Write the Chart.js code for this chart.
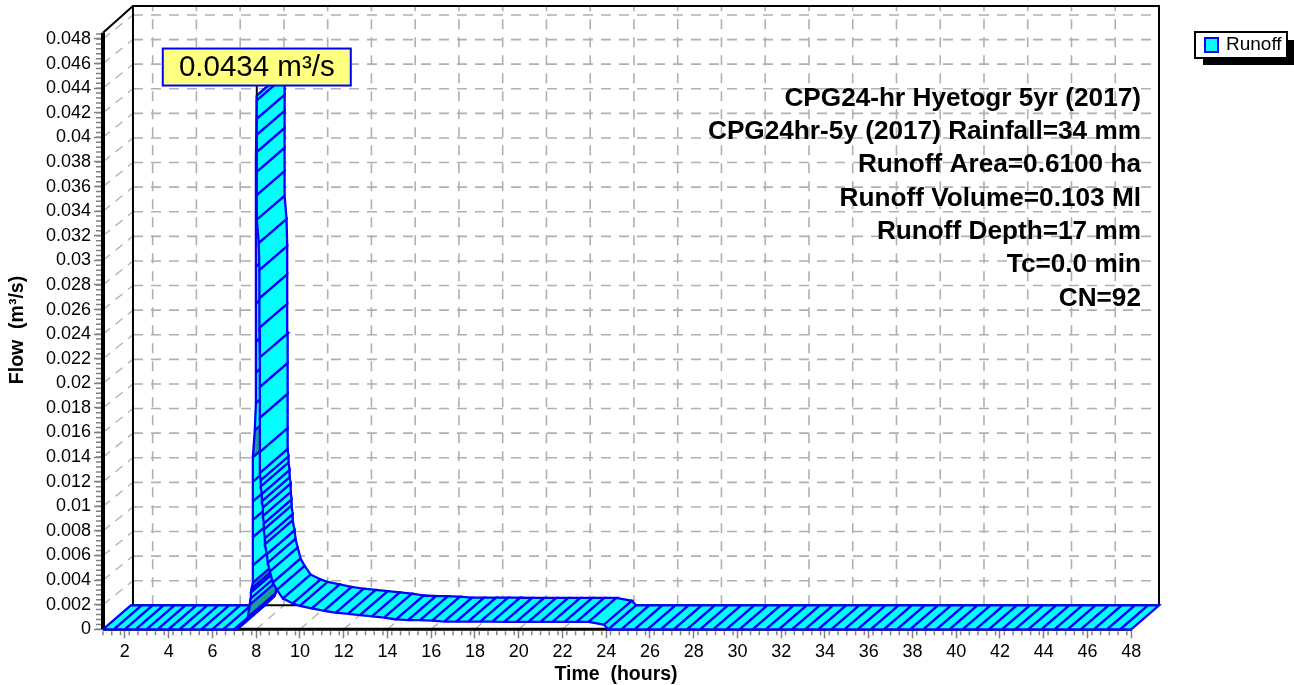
<!DOCTYPE html>
<html lang="en">
<head>
    <meta charset="UTF-8">
    <title>Runoff hydrograph</title>
    <script src="https://cdn.jsdelivr.net/npm/chart.js"></script>
    <style>
        html, body { margin: 0; padding: 0; background: #fff; overflow: hidden; }
        canvas { display: block; }
    </style>
</head>
<body>
    <canvas id="chart" width="1294" height="685"></canvas>

    <script>
        const xTicks = [2, 4, 6, 8, 10, 12, 14, 16, 18, 20, 22, 24, 26, 28, 30, 32, 34, 36, 38, 40, 42, 44, 46, 48];
        const yTicks = [0, 0.002, 0.004, 0.006, 0.008, 0.01, 0.012, 0.014, 0.016, 0.018, 0.02, 0.022, 0.024,
            0.026, 0.028, 0.03, 0.032, 0.034, 0.036, 0.038, 0.04, 0.042, 0.044, 0.046, 0.048];

        // Runoff (hours, m3/s)
        const runoffTimes = [
            1, 1.5, 2, 2.5, 3, 3.5, 4, 4.5, 5, 5.5, 6, 6.5, 7,
            7.12, 7.58, 7.62, 7.71, 7.74, 7.76, 7.79, 7.85, 7.85, 7.85, 7.85, 7.85, 7.85, 7.85,
            7.94, 7.99, 7.99, 7.99, 7.99, 7.99, 7.99, 7.99, 8.03,
            8.03, 8.03, 8.03, 8.03, 8.03, 8.03, 8.03,
            8.12, 8.15, 8.15, 8.15, 8.17, 8.17, 8.17, 8.17, 8.17, 8.21, 8.21, 8.26, 8.26, 8.31, 8.31,
            8.35, 8.35, 8.4, 8.4, 8.49, 8.53, 8.63, 8.76, 8.95, 9.22, 9.68,
            10, 10.55, 11.1, 11.65, 12.2, 12.75, 13.3, 13.85, 14.4, 14.95, 15.5, 16.05, 16.6, 17.15, 17.7, 18.25, 18.8,
            19.35, 19.9, 20.45, 21, 21.55, 22.1, 22.65, 23.2, 23.9, 24.1,
            24.7, 25.3, 25.9, 26.5, 27.1, 27.7, 28.3, 28.9, 29.5, 30.1, 30.7, 31.3, 31.9, 32.5, 33.1, 33.7, 34.3, 34.9, 35.5, 36.1,
            36.7, 37.3, 37.9, 38.5, 39.1, 39.7, 40.3, 40.9, 41.5, 42.1, 42.7, 43.3, 43.9, 44.5, 45.1, 45.7, 46.3, 46.9, 47.5, 48
        ];
        const runoffFlows = [
            0, 0, 0, 0, 0, 0, 0, 0, 0, 0, 0, 0, 0,
            0, 0.00076, 0.001, 0.002, 0.0025, 0.003, 0.0033, 0.0038, 0.0052, 0.0075, 0.0089, 0.0104, 0.012, 0.014,
            0.0162, 0.0184, 0.0209, 0.0234, 0.0265, 0.0295, 0.0333, 0.0382, 0.0434,
            0.043, 0.0415, 0.0402, 0.0388, 0.0372, 0.0353, 0.0333,
            0.0314, 0.0292, 0.0269, 0.0245, 0.0221, 0.0197, 0.0172, 0.0144, 0.0127, 0.0121, 0.0116, 0.011, 0.0104, 0.0099, 0.0092,
            0.0086, 0.0081, 0.0074, 0.0069, 0.0061, 0.0054, 0.0047, 0.0038, 0.0032, 0.0025, 0.0021,
            0.0019, 0.0017, 0.0015, 0.00135, 0.00125, 0.00115, 0.00105, 0.00095, 0.0008, 0.00075, 0.00075, 0.0007, 0.00062, 0.00062, 0.00062, 0.00062, 0.00062,
            0.00061, 0.00061, 0.00061, 0.0006, 0.0006, 0.0006, 0.0006, 0.0006, 0.00037, 0,
            0, 0, 0, 0, 0, 0, 0, 0, 0, 0, 0, 0, 0, 0, 0, 0, 0, 0, 0, 0,
            0, 0, 0, 0, 0, 0, 0, 0, 0, 0, 0, 0, 0, 0, 0, 0, 0, 0, 0, 0
        ];
        // segments of the rising limb that show up darker
        const shadedTimes = [7.62, 7.79, 7.85];
        const shadedFlows = [0.001, 0.0033, 0.014];

        const infoLines = [
            "CPG24-hr Hyetogr 5yr (2017)",
            "CPG24hr-5y (2017) Rainfall=34 mm",
            "Runoff Area=0.6100 ha",
            "Runoff Volume=0.103 Ml",
            "Runoff Depth=17 mm",
            "Tc=0.0 min",
            "CN=92"
        ];
        const peakLabel = "0.0434 m³/s";
        const peakTime = 8.03;
        const peakFlow = 0.0434;

        // the depth of the fake 3D box, in axis units
        const depthX = 1.27;
        const depthY = 0.00195;
        const xMax = 49.27;
        const yMax = 0.05068;
        const wallX = 2.37;

        const FONT = '"Liberation Sans", Arial, sans-serif';
        const datasets = [];

        function addLine(points, color, width, dash) {
            datasets.push({
                data: points, showLine: true, pointRadius: 0, borderColor: color, borderWidth: width,
                borderDash: dash || [], fill: false, clip: false, tension: 0
            });
        }

        // grid on the back wall, the left wall and the floor
        const gridColor = "#b0b0b0";
        yTicks.slice(1).forEach(v => {
            addLine([{x: wallX, y: v + depthY}, {x: xMax, y: v + depthY}], gridColor, 1.6, [10, 8]);
            addLine([{x: 1, y: v}, {x: wallX, y: v + depthY}], gridColor, 1.3, [9, 7]);
        });
        xTicks.forEach(v => {
            addLine([{x: v + depthX, y: depthY}, {x: v + depthX, y: yMax}], gridColor, 1.6, [10, 8]);
            addLine([{x: v, y: 0}, {x: v + depthX, y: depthY}], gridColor, 1.3, [9, 7]);
        });

        // box frame
        addLine([{x: 1, y: 0.0485}, {x: wallX, y: yMax}, {x: xMax, y: yMax}, {x: xMax, y: depthY}], "#000", 2);
        addLine([{x: wallX, y: yMax}, {x: wallX, y: depthY}, {x: xMax, y: depthY}], "#000", 2);
        addLine([{x: 1, y: 0.0485}, {x: 1, y: 0}], "#000", 4);
        addLine([{x: 1, y: 0}, {x: 48, y: 0}], "#000", 3);

        // ribbon: one closed shape per segment, left to right
        for (let i = 0; i < runoffTimes.length - 1; i++) {
            const t0 = runoffTimes[i], q0 = runoffFlows[i];
            const t1 = runoffTimes[i + 1], q1 = runoffFlows[i + 1];
            const shaded = shadedTimes.some((t, k) => t === t0 && shadedFlows[k] === q0);
            datasets.push({
                data: [
                    {x: t0, y: q0}, {x: t1, y: q1},
                    {x: t1 + depthX, y: q1 + depthY}, {x: t0 + depthX, y: q0 + depthY},
                    {x: t0, y: q0}
                ],
                showLine: true, pointRadius: 0, borderColor: "#0000ff", borderWidth: 2.3, clip: false, tension: 0,
                backgroundColor: shaded ? "#1a9c9c" : "#00ffff", fill: "shape"
            });
        }

        // stem from the peak up to its label
        addLine([{x: peakTime, y: peakFlow}, {x: peakTime, y: peakFlow + 0.001}], "#000", 2);

        // chart.js paints the first dataset last
        datasets.reverse();

        const extras = {
            id: "extras",
            afterDatasetsDraw(chart) {
                const ctx = chart.ctx;
                const sx = chart.scales.x, sy = chart.scales.y;
                const area = chart.chartArea;
                ctx.save();

                // minor ticks
                ctx.strokeStyle = "#808080";
                ctx.lineWidth = 1.5;
                ctx.beginPath();
                for (let i = 0; i <= 117; i++) {
                    const px = sx.getPixelForValue(1 + i * 0.4);
                    ctx.moveTo(px, area.bottom + 2);
                    ctx.lineTo(px, area.bottom + 6);
                }
                for (let i = 0; i <= 121; i++) {
                    const py = sy.getPixelForValue(i * 0.0004);
                    ctx.moveTo(area.left - 2, py);
                    ctx.lineTo(area.left - 7, py);
                }
                ctx.stroke();

                // peak label
                const lx = sx.getPixelForValue(peakTime), ly = sy.getPixelForValue(peakFlow);
                ctx.fillStyle = "#ffff80";
                ctx.strokeStyle = "#0000ff";
                ctx.lineWidth = 2;
                ctx.fillRect(lx - 94, ly - 47, 188, 37);
                ctx.strokeRect(lx - 94, ly - 47, 188, 37);
                ctx.fillStyle = "#000";
                ctx.font = "29.5px " + FONT;
                ctx.textAlign = "center";
                ctx.textBaseline = "middle";
                ctx.fillText(peakLabel, lx, ly - 28);

                // info block
                ctx.font = "bold 26.2px " + FONT;
                ctx.textAlign = "right";
                infoLines.forEach((line, i) => ctx.fillText(line, 1141, 98.5 + i * 33.3));

                // axis titles
                ctx.font = "bold 19.5px " + FONT;
                ctx.textAlign = "center";
                ctx.fillText("Time  (hours)", 616, 675);
                ctx.save();
                ctx.translate(18, 330);
                ctx.rotate(-Math.PI / 2);
                ctx.fillText("Flow  (m³/s)", 0, 0);
                ctx.restore();

                // legend
                ctx.fillStyle = "#000";
                ctx.fillRect(1203, 40, 91, 25);
                ctx.fillStyle = "#fff";
                ctx.strokeStyle = "#000";
                ctx.lineWidth = 2;
                ctx.fillRect(1195, 32, 92, 26);
                ctx.strokeRect(1195, 32, 92, 26);
                ctx.fillStyle = "#00ffff";
                ctx.strokeStyle = "#0000ff";
                ctx.fillRect(1205, 38, 13, 14);
                ctx.strokeRect(1205, 38, 13, 14);
                ctx.fillStyle = "#000";
                ctx.font = "19px " + FONT;
                ctx.textAlign = "left";
                ctx.fillText("Runoff", 1226, 45);

                ctx.restore();
            }
        };

        new Chart(document.getElementById("chart").getContext("2d"), {
            type: "scatter",
            data: { datasets: datasets },
            plugins: [extras],
            options: {
                responsive: false,
                animation: false,
                layout: { padding: { top: 6, right: 135, left: 0, bottom: 0 } },
                plugins: { legend: { display: false }, tooltip: { enabled: false } },
                scales: {
                    x: {
                        type: "linear", min: 1, max: xMax,
                        afterBuildTicks: s => { s.ticks = xTicks.map(v => ({value: v})); },
                        afterFit: s => { s.height = 55.7; s.paddingLeft = 0; s.paddingRight = 0; },
                        border: { display: false },
                        grid: { drawOnChartArea: false, tickLength: 9, tickColor: "#808080", tickWidth: 1.5 },
                        ticks: { autoSkip: false, maxRotation: 0, minRotation: 0, padding: 3, color: "#000",
                            font: { family: FONT, size: 18 }, callback: v => String(v) }
                    },
                    y: {
                        type: "linear", min: 0, max: yMax,
                        afterBuildTicks: s => { s.ticks = yTicks.map(v => ({value: v})); },
                        afterFit: s => { s.width = 103; s.paddingTop = 0; s.paddingBottom = 0; },
                        border: { display: false },
                        grid: { drawOnChartArea: false, tickLength: 9, tickColor: "#808080", tickWidth: 1.5 },
                        ticks: { autoSkip: false, padding: 3, color: "#000",
                            font: { family: FONT, size: 18 }, callback: v => String(v) }
                    }
                }
            }
        });
    </script>
</body>
</html>
